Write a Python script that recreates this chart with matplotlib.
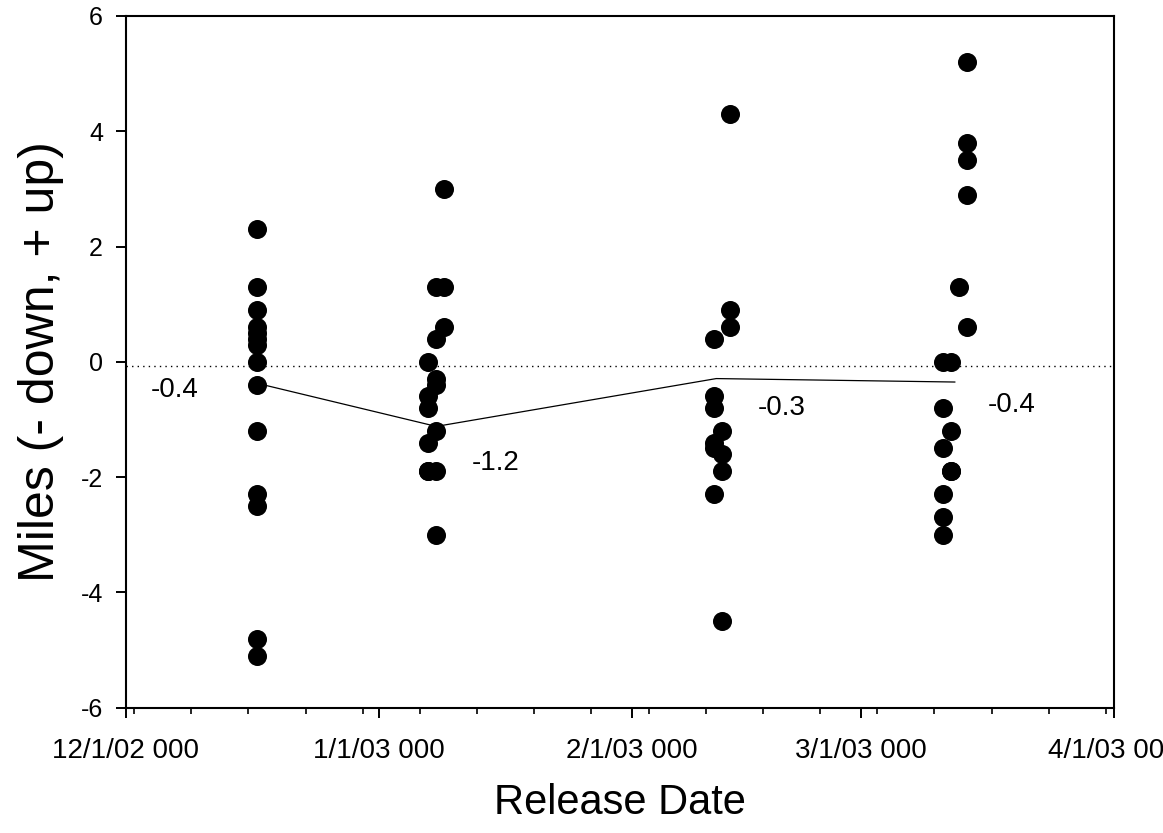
import matplotlib as mpl
mpl.use('Agg')
import numpy as np
import matplotlib.pyplot as plt
import matplotlib.dates as mdates
from matplotlib.ticker import FixedLocator, FuncFormatter

plt.rcParams['font.family'] = ['Liberation Sans', 'DejaVu Sans']

# release date of each fish and movement in miles
dates = (['2002-12-17'] * 14
         + ['2003-01-07'] * 6 + ['2003-01-08'] * 7 + ['2003-01-09'] * 3
         + ['2003-02-11'] * 6 + ['2003-02-12'] * 4 + ['2003-02-13'] * 3
         + ['2003-03-11'] * 6 + ['2003-03-12'] * 4 + ['2003-03-13'] * 1
         + ['2003-03-14'] * 5)
miles = ([2.3, 1.3, 0.9, 0.6, 0.5, 0.4, 0.3, 0.0, -0.4, -1.2, -2.3, -2.5, -4.8, -5.1]
         + [0.0, -0.6, -0.8, -1.4, -1.9, -1.9]
         + [1.3, 0.4, -0.3, -0.4, -1.2, -1.9, -3.0]
         + [3.0, 1.3, 0.6]
         + [0.4, -0.6, -0.8, -1.4, -1.5, -2.3]
         + [-1.2, -1.6, -1.9, -4.5]
         + [4.3, 0.9, 0.6]
         + [0.0, -0.8, -1.5, -2.3, -2.7, -3.0]
         + [0.0, -1.2, -1.9, -1.9]
         + [1.3]
         + [5.2, 3.8, 3.5, 2.9, 0.6])

# mean line per release group
mean_dates = ['2002-12-17 00:00', '2003-01-08 00:00', '2003-02-11 07:00', '2003-03-12 12:00']
mean_miles = [-0.37, -1.12, -0.29, -0.35]
mean_text = ['-0.4', '-1.2', '-0.3', '-0.4']
text_dates = ['2002-12-06 22:00', '2003-01-15 07:00', '2003-02-19 07:00', '2003-03-19 12:00']
text_miles = [-0.49, -1.76, -0.80, -0.75]

ref_level = -0.08

x = mdates.date2num(np.array(dates, dtype='datetime64[D]'))
xm = mdates.date2num(np.array(mean_dates, dtype='datetime64[m]'))
xt = mdates.date2num(np.array(text_dates, dtype='datetime64[m]'))

fig = plt.figure(figsize=(11.63, 8.33), dpi=100)
ax = fig.add_axes([0.1083, 0.1504, 0.8496, 0.8304])

xmin = mdates.date2num(np.datetime64('2002-12-01'))
xmax = mdates.date2num(np.datetime64('2003-04-01'))
ax.axhline(ref_level, color='black', linestyle=(0, (1, 3)), linewidth=1.0)
ax.plot(xm, mean_miles, color='black', linewidth=0.9)
ax.plot(x, miles, 'o', color='black', markersize=13.7, markeredgewidth=0)
for xx, yy, s in zip(xt, text_miles, mean_text):
    ax.text(xx, yy, s, fontsize=20, ha='center', va='center')

ax.set_xlim(xmin, xmax)
ax.set_ylim(-6, 6)
ax.set_yticks([-6, -4, -2, 0, 2, 4, 6])
ax.set_yticklabels(['-6', '-4', '-2', '0', '2', '4', '6'])

months = np.array(['2002-12-01', '2003-01-01', '2003-02-01', '2003-03-01', '2003-04-01'],
                  dtype='datetime64[D]')
ax.xaxis.set_major_locator(FixedLocator(mdates.date2num(months)))
weeks = np.arange(np.datetime64('2002-12-02'), np.datetime64('2003-04-01'), 7)
ax.xaxis.set_minor_locator(FixedLocator(mdates.date2num(weeks)))
def fmt(v, pos):
    d = mdates.num2date(v)
    return '%d/%d/%02d 000' % (d.month, d.day, d.year % 100)
ax.xaxis.set_major_formatter(FuncFormatter(fmt))

ax.tick_params(which='major', direction='out', length=7.5, width=1.4)
ax.tick_params(which='minor', direction='out', length=4.5, width=1.2)
ax.tick_params(axis='x', which='major', pad=14, labelsize=20)
ax.tick_params(axis='y', which='major', pad=9, labelsize=18)
ax.tick_params(top=False, right=False)
for sp in ax.spines.values():
    sp.set_linewidth(1.5)

ax.set_xlabel('Release Date', fontsize=30, labelpad=14)
ax.set_ylabel('Miles (- down, + up)', fontsize=36, labelpad=12)

plt.savefig('out.png', dpi=100, facecolor='w')
